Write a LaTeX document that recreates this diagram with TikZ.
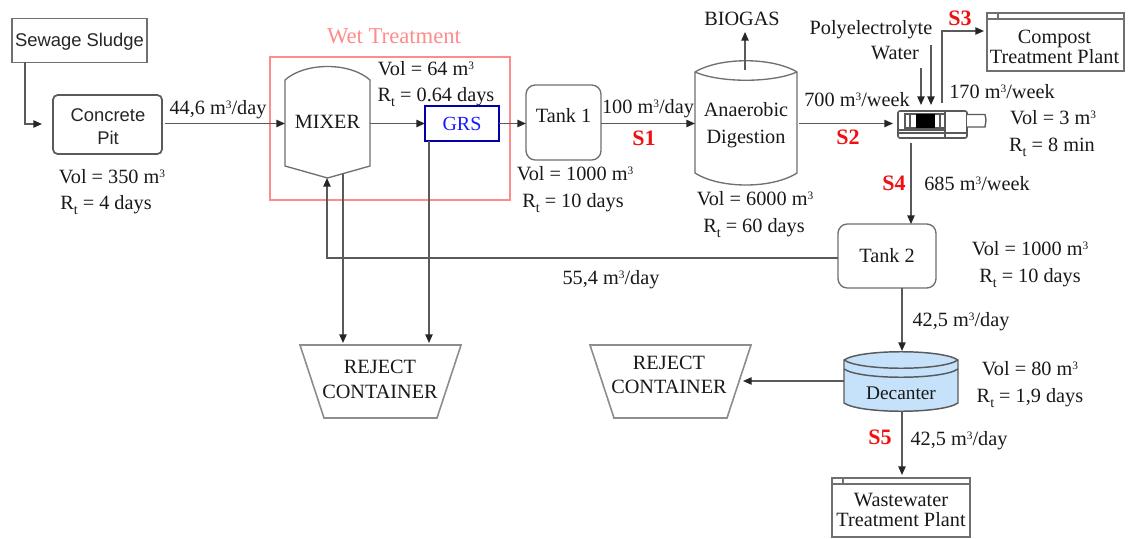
\documentclass[tikz,border=0pt]{standalone}
\usepackage{fontspec}
\setmainfont{Liberation Serif}
\newfontfamily\sansf{Liberation Sans}
\usetikzlibrary{arrows.meta}
\definecolor{ln}{HTML}{5A5A5A}
\definecolor{edge}{HTML}{707070}
\definecolor{wet}{HTML}{FF8C8C}
\definecolor{redS}{HTML}{F01010}
\definecolor{decblue}{HTML}{C6E2FA}
\newcommand{\Rt}{R\raisebox{-3.6pt}{\fontsize{10.5}{10.5}\selectfont t}}
\newcommand{\cub}{\raisebox{4.6pt}{\fontsize{8.5}{8.5}\selectfont 3}}
\tikzset{
  sized/.style 2 args={minimum width=#1*0.75pt, minimum height=#2*0.75pt, inner sep=0pt, outer sep=0pt},
  txt/.style={font=\fontsize{15.2}{15}\selectfont, inner sep=0pt, align=center, text=black!90},
  stxt/.style={font=\sansf\fontsize{13.8}{16.5}\selectfont, inner sep=0pt, align=center, text=black!85},
  lab/.style={txt, align=center, yshift=-1.5pt},
  slabel/.style={font=\bfseries\fontsize{16.5}{15}\selectfont, text=redS, inner sep=0pt},
  flow/.style={draw=ln, line width=1.1pt, -{Triangle[length=6.5pt,width=5.5pt,color=black!85]}},
  plain/.style={draw=edge, line width=1pt},
  plant/.style={draw=edge, line width=1.1pt},
  rbox/.style={draw=ln, line width=1.3pt, rounded corners=3.5pt},
  softbox/.style={draw=edge, line width=1pt, rounded corners=7pt},
}
\begin{document}
\begin{tikzpicture}[x=0.75pt,y=-0.75pt]
\useasboundingbox (0,0) rectangle (1136,539);
\fill[white] (0,0) rectangle (1136,539);

% wet treatment frame
\node[sized={240}{143}, draw=wet, line width=1.5pt] (wetbox) at (390,128.5) {};
\node[txt, text=wet, font=\fontsize{17}{17}\selectfont] (wetlabel) at (394,36) {Wet Treatment};

% boxes
\node[sized={135}{44}, plant] (sludge) at (79.5,40.5) {};
\node[stxt] (sludgetext) at (79.5,41.5) {Sewage Sludge};
\node[sized={109}{59}, rbox] (pit) at (107.5,124.5) {};
\node[stxt] (pittext) at (108,127) {Concrete\\[.6pt]Pit};
\node[sized={74}{35}, draw=blue!65!black, line width=1pt, stxt, text=blue!90, font=\fontsize{15}{15}\selectfont] (grs) at (462,123.5) {GRS};
\node[sized={75}{75}, softbox, txt] (tank1) at (563.5,122.5) {\raisebox{11pt}{Tank 1}};
\node[sized={98}{64}, softbox, txt] (tank2) at (887,256) {Tank 2};

% mixer
\node[sized={85}{118}, txt] (mixer) at (327.5,120) {};
\draw[plain, fill=white] (285,80) .. controls (305,62) and (350,62) .. (370,80) -- (370,166) -- (327.5,178) -- (285,166) -- cycle;
\node[txt] (mixertext) at (327.5,121.5) {MIXER};

% digester
\node[sized={102}{124}, txt] (digester) at (746,123) {};
\node[txt] (digestertext) at (746,125) {Anaerobic\\[5pt]Digestion};
\draw[plain] (695,72) .. controls (720,57) and (772,57) .. (797,72) -- (797,173) .. controls (772,189) and (720,189) .. (695,173) -- cycle;
\draw[plain] (695,72) .. controls (720,83) and (772,83) .. (797,72);

% centrifuge
\node[sized={69}{27}] (centri) at (932.5,124.5) {};
\draw[draw=ln, line width=1.2pt, rounded corners=1.5pt] (898,111) rectangle (967,138);
\draw[ln, line width=1pt] (898,130) -- (945,130) (898,133) -- (967,133) (945,111) -- (945,138);
\draw[ln, line width=1pt, fill=white] (905,114) rectangle (945,128);
\fill[black] (916,114) rectangle (935,128);
\draw[ln, line width=.8pt] (910,114) -- (910,128) (940,114) -- (940,128);
\draw[ln, line width=1pt, fill=white] (967,114.5) -- (985,114.5) -- (986,120) -- (985,127) -- (967,127);

% rejects
\node[sized={161}{73}] (rej1) at (380.5,381.5) {};
\draw[draw=edge!80, line width=1.2pt] (300,345) -- (461,345) -- (437,418) -- (324,418) -- cycle;
\node[txt, font=\fontsize{15.2}{19}\selectfont] (rej1text) at (380,379.5) {REJECT\\CONTAINER};
\node[sized={161}{73}] (rej2) at (670.5,381.5) {};
\draw[draw=edge!80, line width=1.2pt] (590,345) -- (751,345) -- (727,418) -- (614,418) -- cycle;
\node[txt, font=\fontsize{15.2}{18.5}\selectfont] (rej2text) at (669,375) {REJECT\\CONTAINER};

% decanter
\node[sized={114}{60}] (decanter) at (901,381) {};
\draw[draw=ln, line width=1.1pt, fill=decblue] (844,360) -- (844,403) .. controls (860,414) and (942,414) .. (958,403) -- (958,360) .. controls (942,349) and (860,349) .. (844,360) -- cycle;
\draw[draw=ln, line width=1.1pt] (844,360) .. controls (860,371) and (942,371) .. (958,360);
\draw[draw=ln, line width=1.1pt] (844,369) .. controls (860,380) and (942,380) .. (958,369);
\node[txt, font=\fontsize{14.5}{14}\selectfont] (decantertext) at (901,393) {Decanter};

% treatment plants
\node[sized={137}{58}, plant] (compost) at (1055.5,42) {};
\draw[plant] (987,19) -- (1124,19) (998,13) -- (998,19);
\node[txt] (composttext) at (1054.5,47) {Compost\\[.2pt]Treatment Plant};
\node[sized={138}{59}, plant] (wwtp) at (901,507.5) {};
\draw[plant] (832,484) -- (970,484) (843,478) -- (843,484);
\node[txt] (wwtptext) at (901,510) {Wastewater\\[.2pt]Treatment Plant};

% free text labels
\node[txt] (biogas) at (742,19) {BIOGAS};
\node[txt] (poly) at (871,29.5) {Polyelectrolyte};
\node[txt] (water) at (895,53) {Water};

% connector ends
\coordinate (a1) at (25,62);
\coordinate (a2) at (42,124);
\coordinate (pitout) at (165,123.5);
\coordinate (mixin) at (285,123.5);
\coordinate (mixout) at (370,123.5);
\coordinate (gin) at (425,123.5);
\coordinate (gout) at (499,123.5);
\coordinate (tin) at (526,123.5);
\coordinate (tout) at (601,123.5);
\coordinate (din) at (695,123.5);
\coordinate (dout) at (799,123.5);
\coordinate (cin) at (893,123.5);
\coordinate (gasfrom) at (745,70);
\coordinate (gasto) at (745,32);
\coordinate (polyfrom) at (921,68);
\coordinate (polyto) at (921,105);
\coordinate (waterfrom) at (931,45);
\coordinate (waterto) at (931,105);
\coordinate (s3from) at (942,103);
\coordinate (s3to) at (984,31);
\coordinate (s4from) at (911,143);
\coordinate (recyclein) at (838,258);
\coordinate (mixbot) at (327,178);
\coordinate (mixrej) at (343,174);
\coordinate (rejtop1) at (343,343);
\coordinate (grsbot) at (429,141);
\coordinate (rejtop2) at (429,343);
\coordinate (t2bot) at (902,288);
\coordinate (decin) at (902,351);
\coordinate (decout) at (844,381);
\coordinate (rej2in) at (743,381);
\coordinate (decbot) at (902,411);
\coordinate (wwin) at (902,475);

% connectors
\draw[flow] (a1) |- (a2);
\draw[flow] (pitout) -- (mixin);
\draw[flow] (mixout) -- (gin);
\draw[flow] (gout) -- (tin);
\draw[flow] (tout) -- (din);
\draw[flow] (dout) -- (cin);
\draw[flow] (gasfrom) -- (gasto);
\draw[flow] (polyfrom) -- (polyto);
\draw[flow] (waterfrom) -- (waterto);
\draw[flow] (s3from) |- (s3to);
\draw[flow] (s4from) -- (s4from |- tank2.north);
\draw[flow] (recyclein) -| (mixbot);
\draw[flow] (mixrej) -- (rejtop1);
\draw[flow] (grsbot) -- (rejtop2);
\draw[flow] (t2bot) -- (decin);
\draw[flow] (decout) -- (rej2in);
\draw[flow] (decbot) -- (wwin);

% data labels
\node[lab] (l01) at (112,175) {Vol = 350 m\cub};
\node[lab] (l02) at (106,203) {\Rt{} = 4 days};
\node[lab] (l03) at (218,108) {44,6 m\cub/day};
\node[lab] (l04) at (426,67) {Vol = 64 m\cub};
\node[lab] (l05) at (436,95) {\Rt{} = 0.64 days};
\node[lab] (l06) at (648,107) {100 m\cub/day};
\node[lab] (l07) at (575,172) {Vol = 1000 m\cub};
\node[lab] (l08) at (573,201) {\Rt{} = 10 days};
\node[lab] (l09) at (755,197) {Vol = 6000 m\cub};
\node[lab] (l10) at (754,226) {\Rt{} = 60 days};
\node[lab] (l11) at (857,98) {700 m\cub/week};
\node[lab] (l12) at (1002,90) {170 m\cub/week};
\node[lab] (l13) at (1053,116) {Vol = 3 m\cub};
\node[lab] (l14) at (1052,145) {\Rt{} = 8 min};
\node[lab] (l15) at (977,182) {685 m\cub/week};
\node[lab] (l16) at (1030,247) {Vol = 1000 m\cub};
\node[lab] (l17) at (1030,276) {\Rt{} = 10 days};
\node[lab] (l18) at (611,278) {55,4 m\cub/day};
\node[lab] (l19) at (961,320) {42,5 m\cub/day};
\node[lab] (l20) at (1030,367) {Vol = 80 m\cub};
\node[lab] (l21) at (1030,396) {\Rt{} = 1,9 days};
\node[lab] (l22) at (959,439) {42,5 m\cub/day};

\node[slabel] (s1) at (644,138) {S1};
\node[slabel] (s2) at (848,137) {S2};
\node[slabel] (s3) at (960,18.5) {S3};
\node[slabel] (s4) at (894,183) {S4};
\node[slabel] (s5) at (880,437) {S5};
\end{tikzpicture}
\end{document}
